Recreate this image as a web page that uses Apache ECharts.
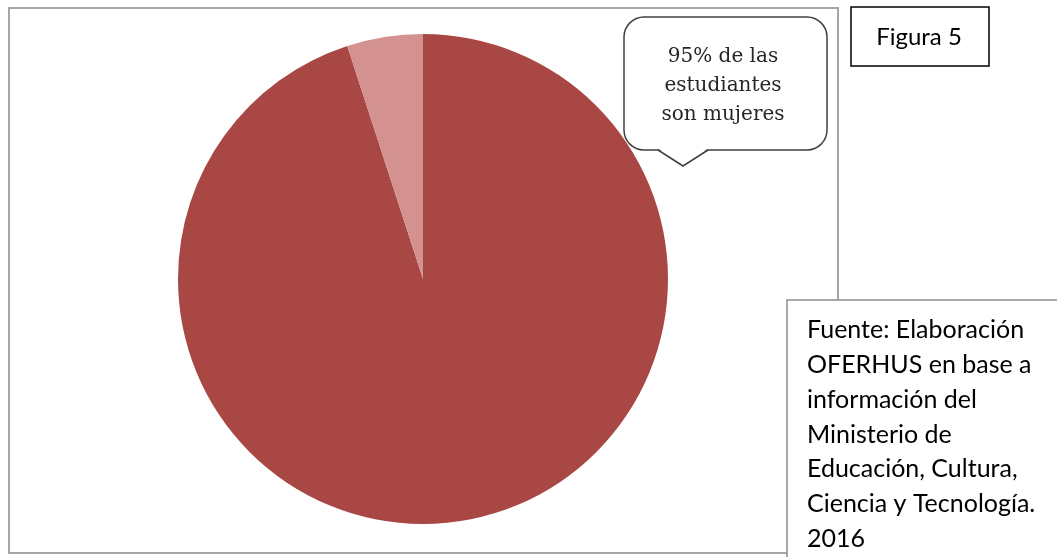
<!DOCTYPE html>
<html>
<head>
<meta charset="utf-8">
<script src="https://cdn.jsdelivr.net/npm/echarts@6/dist/echarts.min.js"></script>
<style>
  html, body { margin: 0; padding: 0; background: #fff; }
  #chart { width: 1057px; height: 557px; }
</style>
</head>
<body>
<div id="chart"></div>
<script>
// datos
const categorias = ['Mujeres', 'Hombres'];
const valores = [95, 5];
const colores = ['#A94744', '#D3918F'];

const textoGlobo = ['95% de las', 'estudiantes', 'son mujeres'];
const titulo = 'Figura 5';
const fuente = [
  'Fuente: Elaboración',
  'OFERHUS en base a',
  'información del',
  'Ministerio de',
  'Educación, Cultura,',
  'Ciencia y Tecnología.',
  '2016'
];

const chart = echarts.init(document.getElementById('chart'));

const option = {
  backgroundColor: '#fff',
  animation: false,
  series: [
    {
      type: 'pie',
      center: [423, 279],
      radius: [0, 245],
      startAngle: 90,
      clockwise: true,
      label: { show: false },
      labelLine: { show: false },
      emphasis: { disabled: true },
      itemStyle: { borderWidth: 0 },
      data: categorias.map((c, i) => ({
        name: c,
        value: valores[i],
        itemStyle: { color: colores[i] }
      }))
    }
  ],
  graphic: [
    // marco del gráfico
    {
      type: 'rect', z: -1,
      shape: { x: 9, y: 8, width: 829, height: 545 },
      style: { fill: 'none', stroke: '#a6a6a6', lineWidth: 2 }
    },
    // globo de texto
    {
      type: 'rect', z: 10,
      shape: { x: 624, y: 17, width: 203, height: 133, r: 20 },
      style: { fill: '#fff', stroke: '#404040', lineWidth: 1.5 }
    },
    {
      type: 'polygon', z: 11,
      shape: { points: [[658, 148.5], [708, 148.5], [683, 165]] },
      style: { fill: '#fff' }
    },
    {
      type: 'polyline', z: 12,
      shape: { points: [[658, 150], [683, 166], [708, 150]] },
      style: { fill: 'none', stroke: '#404040', lineWidth: 1.5 }
    },
    {
      type: 'text', z: 13,
      x: 723, y: 42,
      style: {
        text: textoGlobo.join('\n'),
        align: 'center',
        fontFamily: 'DejaVu Serif',
        fontSize: 20,
        lineHeight: 29,
        fill: '#262626'
      }
    },
    // caja del título
    {
      type: 'rect', z: 10,
      shape: { x: 851, y: 7, width: 138, height: 59 },
      style: { fill: '#fff', stroke: '#000', lineWidth: 1.5 }
    },
    {
      type: 'text', z: 11,
      x: 919, y: 37,
      style: {
        text: titulo,
        align: 'center', verticalAlign: 'middle',
        fontFamily: 'Lato',
        fontSize: 24,
        fill: '#000'
      }
    },
    // caja de la fuente
    {
      type: 'rect', z: 10,
      shape: { x: 787, y: 300, width: 290, height: 300 },
      style: { fill: '#fff', stroke: '#8c8c8c', lineWidth: 1.5 }
    },
    {
      type: 'text', z: 11,
      x: 807, y: 313,
      style: {
        text: fuente.join('\n'),
        align: 'left',
        fontFamily: 'Lato',
        fontSize: 25,
        lineHeight: 34.7,
        fill: '#000'
      }
    }
  ]
};

chart.setOption(option);
</script>
</body>
</html>
